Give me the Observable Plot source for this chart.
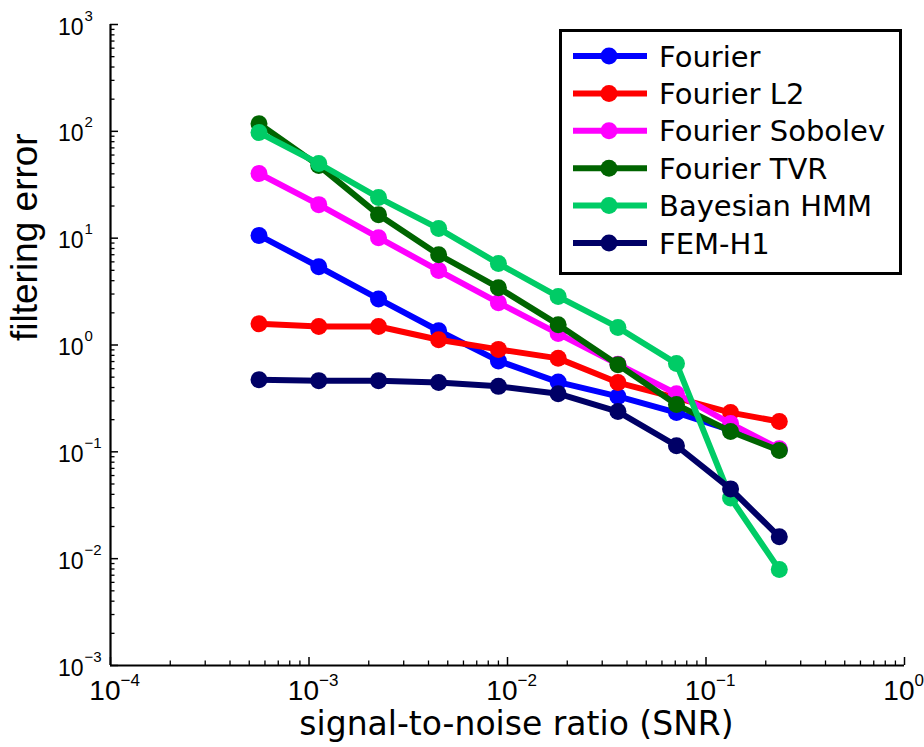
<!DOCTYPE html>
<html><head><meta charset="utf-8">
<script src="https://cdn.jsdelivr.net/npm/d3@7"></script>
<script src="https://cdn.jsdelivr.net/npm/@observablehq/plot@0.6"></script>
<style>
body{margin:0;background:#fff;}
#wrap{position:relative;width:924px;height:747px;overflow:hidden;background:#fff;}
#legend{position:absolute;left:559px;top:29px;}
</style></head><body><div id="wrap"></div>
<script>
// ---- data ----
const snr = [5.6e-4, 1.12e-3, 2.24e-3, 4.5e-3, 9e-3, 1.8e-2, 3.6e-2, 7.1e-2, 0.133, 0.234];
const seriesNames = ["Fourier", "Fourier L2", "Fourier Sobolev", "Fourier TVR", "Bayesian HMM", "FEM-H1"];
const seriesColors = ["#0000ff", "#ff0000", "#ff00ff", "#006400", "#00cc66", "#000066"];
const fourier  = [10.6, 5.4, 2.7, 1.36, 0.71, 0.45, 0.33, 0.233, 0.16, 0.105];
const fourierL2 = [1.58, 1.49, 1.49, 1.12, 0.91, 0.75, 0.445, 0.32, 0.233, 0.192];
const fourierSobolev = [40.3, 20.6, 10.1, 4.98, 2.49, 1.28, 0.66, 0.35, 0.184, 0.107];
const fourierTVR = [118, 47.8, 16.6, 7.0, 3.44, 1.55, 0.655, 0.277, 0.155, 0.103];
const bayesianHMM = [97.5, 50, 24, 12.3, 5.78, 2.84, 1.46, 0.67, 0.037, 0.0079];
const femH1 = [0.474, 0.464, 0.464, 0.445, 0.41, 0.35, 0.238, 0.114, 0.045, 0.016];
const xMajorTicks = [1e-4, 1e-3, 1e-2, 1e-1, 1];
const xTickExponents = ["\u22124", "\u22123", "\u22122", "\u22121", "0"];
const yMajorTicks = [1e3, 1e2, 1e1, 1, 1e-1, 1e-2, 1e-3];
const yTickExponents = ["3", "2", "1", "0", "\u22121", "\u22122", "\u22123"];
const xLabel = "signal-to-noise ratio (SNR)";
const yLabel = "filtering error";

// ---- build ----
const seriesValues = [fourier, fourierL2, fourierSobolev, fourierTVR, bayesianHMM, femH1];
const rows = seriesNames.map((name, i) => snr.map((x, j) => ({series: name, x, y: seriesValues[i][j]})));
const xDomain = [1e-4, 1], yDomain = [1e-3, 1e3];
const xMinor = d3.scaleLog().domain(xDomain).ticks().filter(t => !xMajorTicks.some(m => Math.abs(m - t) / m < 1e-9));
const yMinor = d3.scaleLog().domain(yDomain).ticks().filter(t => !yMajorTicks.some(m => Math.abs(m - t) / m < 1e-9));

const seriesMarks = rows.flatMap(r => [
  Plot.line(r, {x: "x", y: "y", stroke: "series", strokeWidth: 6, strokeLinejoin: "round", strokeLinecap: "round"}),
  Plot.dot(r, {x: "x", y: "y", fill: "series", r: 8.5})
]);

const chart = Plot.plot({
  width: 924, height: 747,
  marginLeft: 110, marginRight: 20, marginTop: 24, marginBottom: 82,
  style: {fontFamily: "'Liberation Sans', Arial, sans-serif", background: "white", color: "black"},
  x: {type: "log", domain: xDomain, axis: null},
  y: {type: "log", domain: yDomain, axis: null},
  color: {domain: seriesNames, range: seriesColors},
  marks: [
    Plot.axisX({ticks: xMinor, anchor: "bottom", tickSize: -4.5, fill: "none", stroke: "black", strokeWidth: 1.3, label: null}),
    Plot.axisX({ticks: xMajorTicks, anchor: "bottom", tickSize: -8, fill: "none", stroke: "black", strokeWidth: 1.5, label: null}),
    Plot.axisY({ticks: yMinor, anchor: "left", tickSize: -4.5, fill: "none", stroke: "black", strokeWidth: 1.3, label: null}),
    Plot.axisY({ticks: yMajorTicks, anchor: "left", tickSize: -8, fill: "none", stroke: "black", strokeWidth: 1.5, label: null}),
    Plot.ruleX([xDomain[0]], {stroke: "black", strokeWidth: 2.2}),
    Plot.ruleY([yDomain[0]], {stroke: "black", strokeWidth: 2.2}),
    Plot.text(xMajorTicks, {x: d => d, frameAnchor: "bottom", text: () => "10", textAnchor: "end", lineAnchor: "bottom", dx: 10, dy: 34, fontSize: 28, fill: "black"}),
    Plot.text(xMajorTicks, {x: d => d, frameAnchor: "bottom", text: (d, i) => xTickExponents[i], textAnchor: "start", lineAnchor: "bottom", dx: 10, dy: 20, fontSize: 17, fill: "black"}),
    Plot.text(yMajorTicks, {y: d => d, frameAnchor: "left", text: () => "10", textAnchor: "end", lineAnchor: "bottom", dx: -27, dy: 10, fontSize: 23, fill: "black"}),
    Plot.text(yMajorTicks, {y: d => d, frameAnchor: "left", text: (d, i) => yTickExponents[i], textAnchor: "start", lineAnchor: "bottom", dx: -26, dy: -4, fontSize: 15, fill: "black"}),
    Plot.text([xLabel], {frameAnchor: "bottom", text: d => d, lineAnchor: "bottom", dx: 9, dy: 69, fontSize: 33, fontFamily: "'DejaVu Sans', sans-serif", fill: "black"}),
    Plot.text([yLabel], {frameAnchor: "left", text: d => d, rotate: -90, lineAnchor: "bottom", dx: -74, dy: -4, fontSize: 37, fill: "black"}),
    ...seriesMarks
  ]
});
const wrap = document.getElementById("wrap");
wrap.appendChild(chart);

// ---- legend ----
const ns = "http://www.w3.org/2000/svg";
const lg = document.createElementNS(ns, "svg");
lg.setAttribute("id", "legend");
lg.setAttribute("width", 344); lg.setAttribute("height", 247);
const box = document.createElementNS(ns, "rect");
box.setAttribute("x", 1.5); box.setAttribute("y", 1.5); box.setAttribute("width", 340); box.setAttribute("height", 243);
box.setAttribute("fill", "white"); box.setAttribute("stroke", "black"); box.setAttribute("stroke-width", 3);
lg.appendChild(box);
seriesNames.forEach((name, i) => {
  const cy = 27 + i * 37.4;
  const ln = document.createElementNS(ns, "line");
  ln.setAttribute("x1", 14); ln.setAttribute("x2", 88); ln.setAttribute("y1", cy); ln.setAttribute("y2", cy);
  ln.setAttribute("stroke", seriesColors[i]); ln.setAttribute("stroke-width", 6);
  lg.appendChild(ln);
  const c = document.createElementNS(ns, "circle");
  c.setAttribute("cx", 50); c.setAttribute("cy", cy); c.setAttribute("r", 8.5); c.setAttribute("fill", seriesColors[i]);
  lg.appendChild(c);
  const t = document.createElementNS(ns, "text");
  t.setAttribute("x", 100); t.setAttribute("y", cy + 10.5);
  t.setAttribute("font-family", "'DejaVu Sans', sans-serif"); t.setAttribute("font-size", 29);
  t.textContent = name;
  lg.appendChild(t);
});
wrap.appendChild(lg);
</script>
</body></html>
